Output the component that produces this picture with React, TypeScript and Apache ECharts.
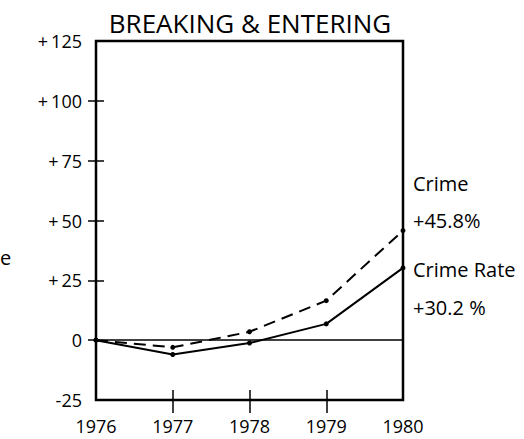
import React, { useEffect, useRef } from "react";
import * as echarts from "echarts";

const years = [1976, 1977, 1978, 1979, 1980];
const crimeValues = [0, -3, 3.5, 16.5, 45.8];
const crimeRateValues = [0, -6, -1.2, 6.8, 30.2];
const yTicks = [-25, 0, 25, 50, 75, 100, 125];
const innerYearTicks = [1977, 1978, 1979];
const crossingYTicks = [25, 50, 75, 100];
const outsideYTicks = [0, 25, 50, 75, 100];
const seriesNames = ["Crime", "Crime Rate"];
const endLabels = ["+45.8%", "+30.2 %"];
const titleText = "BREAKING & ENTERING";
const cutLabel = "e";

const FONT = "'Open Sans', Lato, sans-serif";

export default function App() {
  const ref = useRef<HTMLDivElement>(null);
  useEffect(() => {
    if (!ref.current) return;
    const chart = echarts.init(ref.current, undefined, { renderer: "svg" });
    const fmtY = (v: number) => (v > 0 ? "+\u2009" + v : String(v));
    const tickStyle = { color: "#000", width: 1.5 };
    chart.setOption({
      animation: false,
      backgroundColor: "#fff",
      title: {
        text: titleText,
        left: 245,
        top: 5,
        textAlign: "center",
        textStyle: { fontFamily: FONT, fontSize: 26, fontWeight: "normal", color: "#000" },
      },
      grid: {
        left: 96,
        right: 121,
        top: 41,
        bottom: 39,
        show: true,
        borderColor: "#000",
        borderWidth: 2.5,
        backgroundColor: "transparent",
      },
      xAxis: [
        {
          type: "value",
          min: 1976,
          max: 1980,
          interval: 1,
          axisLine: { show: false, onZero: false },
          splitLine: { show: false },
          axisTick: { show: true, length: 13, customValues: innerYearTicks, lineStyle: tickStyle },
          axisLabel: {
            margin: 17,
            color: "#000",
            fontFamily: FONT,
            fontSize: 18,
            customValues: years,
            formatter: (v: number) => String(v),
          },
        },
        {
          type: "value",
          min: 1976,
          max: 1980,
          interval: 1,
          position: "bottom",
          axisLine: { show: false, onZero: false },
          splitLine: { show: false },
          axisLabel: { show: false },
          axisTick: { show: true, inside: true, length: 10, customValues: innerYearTicks, lineStyle: tickStyle },
        },
      ],
      yAxis: [
        {
          type: "value",
          min: -25,
          max: 125,
          interval: 25,
          axisLine: { show: false, onZero: false },
          splitLine: { show: false },
          axisTick: { show: true, length: 8, customValues: outsideYTicks, lineStyle: tickStyle },
          axisLabel: {
            margin: 14,
            color: "#000",
            fontFamily: FONT,
            fontSize: 18,
            customValues: yTicks,
            formatter: fmtY,
          },
        },
        {
          type: "value",
          min: -25,
          max: 125,
          interval: 25,
          position: "left",
          axisLine: { show: false, onZero: false },
          splitLine: { show: false },
          axisLabel: { show: false },
          axisTick: { show: true, inside: true, length: 8, customValues: crossingYTicks, lineStyle: tickStyle },
        },
      ],
      series: [
        {
          name: seriesNames[0],
          type: "line",
          data: years.map((y, i) => [y, crimeValues[i]]),
          symbol: "circle",
          symbolSize: 5,
          itemStyle: { color: "#000" },
          lineStyle: { color: "#000", width: 2, type: [12, 7] },
          markLine: {
            silent: true,
            symbol: "none",
            label: { show: false },
            lineStyle: { color: "#000", width: 1.5, type: "solid" },
            data: [{ yAxis: 0 }],
          },
        },
        {
          name: seriesNames[1],
          type: "line",
          data: years.map((y, i) => [y, crimeRateValues[i]]),
          symbol: "circle",
          symbolSize: 5,
          itemStyle: { color: "#000" },
          lineStyle: { color: "#000", width: 2, type: "solid" },
        },
      ],
      graphic: [
        { type: "text", left: 413, top: 173, style: { text: seriesNames[0], font: `20px ${FONT}`, fill: "#000" } },
        { type: "text", left: 413, top: 210, style: { text: endLabels[0], font: `20px ${FONT}`, fill: "#000" } },
        { type: "text", left: 413, top: 259, style: { text: seriesNames[1], font: `20px ${FONT}`, fill: "#000" } },
        { type: "text", left: 413, top: 297, style: { text: endLabels[1], font: `20px ${FONT}`, fill: "#000" } },
        { type: "text", left: 0, top: 247, style: { text: cutLabel, font: `20px ${FONT}`, fill: "#000" } },
      ],
    });
    return () => chart.dispose();
  }, []);
  return <div ref={ref} style={{ position: "fixed", left: 0, top: 0, width: 524, height: 439 }} />;
}
